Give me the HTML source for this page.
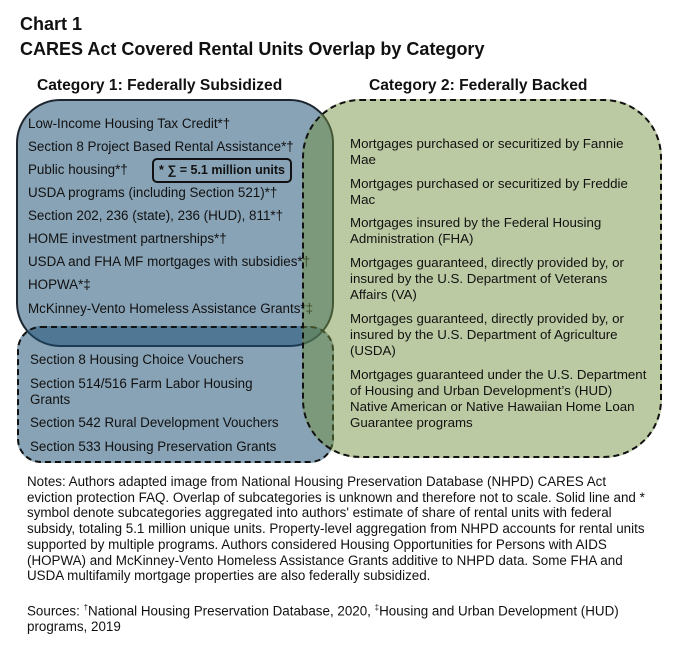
<!DOCTYPE html>
<html><head><meta charset="utf-8"><style>
*{margin:0;padding:0;box-sizing:border-box}
body{width:677px;height:656px;background:#fff;position:relative;overflow:hidden;font-family:"Liberation Sans",Arial,sans-serif;color:#111}
.a{position:absolute;white-space:nowrap}
.t{font-weight:bold;font-size:18px}
.h{font-weight:bold;font-size:15.6px}
.s{font-size:13.4px}
.g{font-size:13.3px;line-height:16px;white-space:nowrap}
.n{font-size:13.4px;line-height:15.7px;white-space:nowrap}
</style></head><body>
<div class="a t" style="left:20px;top:14px">Chart 1</div>
<div class="a t" style="left:20px;top:39px">CARES Act Covered Rental Units Overlap by Category</div>
<div class="a h" style="left:37px;top:77px">Category 1: Federally Subsidized</div>
<div class="a h" style="left:369px;top:77px">Category 2: Federally Backed</div>

<div class="a" style="left:16px;top:99px;width:318px;height:248px;border:2px solid #1d2630;border-radius:44px;background:rgba(30,82,118,0.53)"></div>
<div class="a" style="left:17px;top:326px;width:317px;height:137px;border:2px dashed #111;border-radius:24px;background:rgba(30,82,118,0.53)"></div>

<div class="a s" style="left:28px;top:116px">Low-Income Housing Tax Credit*†</div>
<div class="a s" style="left:28px;top:139px">Section 8 Project Based Rental Assistance*†</div>
<div class="a s" style="left:28px;top:162px">Public housing*†</div>
<div class="a" style="left:152px;top:158px;width:140px;height:25px;border:2px solid #111;border-radius:5px;font-size:12.5px;font-weight:bold;padding:3px 0 0 5px">* ∑ = 5.1 million units</div>
<div class="a s" style="left:28px;top:185px">USDA programs (including Section 521)*†</div>
<div class="a s" style="left:28px;top:208px">Section 202, 236 (state), 236 (HUD), 811*†</div>
<div class="a s" style="left:28px;top:231px">HOME investment partnerships*†</div>
<div class="a s" style="left:28px;top:254px">USDA and FHA MF mortgages with subsidies*†</div>
<div class="a s" style="left:28px;top:277px">HOPWA*‡</div>
<div class="a s" style="left:28px;top:301px">McKinney-Vento Homeless Assistance Grants*‡</div>

<div class="a s" style="left:30px;top:352px">Section 8 Housing Choice Vouchers</div>
<div class="a s" style="left:30px;top:376px;line-height:16px">Section 514/516 Farm Labor Housing<br>Grants</div>
<div class="a s" style="left:30px;top:415px">Section 542 Rural Development Vouchers</div>
<div class="a s" style="left:30px;top:439px">Section 533 Housing Preservation Grants</div>

<div class="a" style="left:302px;top:99px;width:360px;height:359px;border:2px dashed #111;border-radius:58px;background:rgba(114,143,61,0.475)"></div>

<div class="a g" style="left:350px;top:136px">Mortgages purchased or securitized by Fannie<br>Mae</div>
<div class="a g" style="left:350px;top:176px">Mortgages purchased or securitized by Freddie<br>Mac</div>
<div class="a g" style="left:350px;top:215px">Mortgages insured by the Federal Housing<br>Administration (FHA)</div>
<div class="a g" style="left:350px;top:255px">Mortgages guaranteed, directly provided by, or<br>insured by the U.S. Department of Veterans<br>Affairs (VA)</div>
<div class="a g" style="left:350px;top:311px">Mortgages guaranteed, directly provided by, or<br>insured by the U.S. Department of Agriculture<br>(USDA)</div>
<div class="a g" style="left:350px;top:367px">Mortgages guaranteed under the U.S. Department<br>of Housing and Urban Development’s (HUD)<br>Native American or Native Hawaiian Home Loan<br>Guarantee programs</div>

<div class="a n" style="left:27px;top:474px">Notes: Authors adapted image from National Housing Preservation Database (NHPD) CARES Act<br>eviction protection FAQ. Overlap of subcategories is unknown and therefore not to scale. Solid line and *<br>symbol denote subcategories aggregated into authors' estimate of share of rental units with federal<br>subsidy, totaling 5.1 million unique units. Property-level aggregation from NHPD accounts for rental units<br>supported by multiple programs. Authors considered Housing Opportunities for Persons with AIDS<br>(HOPWA) and McKinney-Vento Homeless Assistance Grants additive to NHPD data. Some FHA and<br>USDA multifamily mortgage properties are also federally subsidized.</div>
<div class="a n" style="left:27px;top:600px">Sources: <sup style="font-size:8px">†</sup>National Housing Preservation Database, 2020, <sup style="font-size:8px">‡</sup>Housing and Urban Development (HUD)<br>programs, 2019</div>
</body></html>
